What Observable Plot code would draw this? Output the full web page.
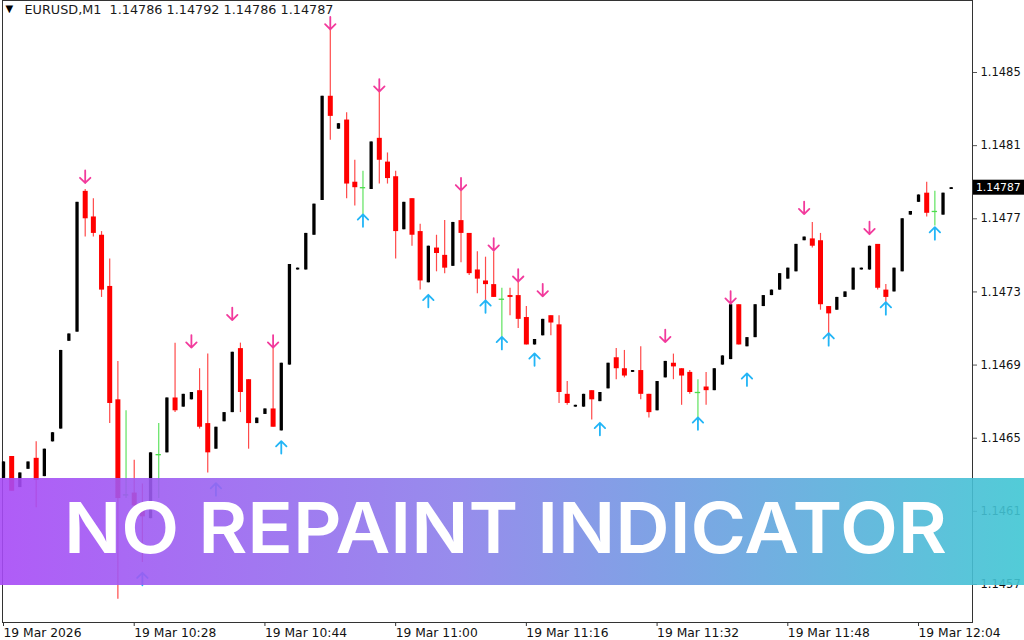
<!DOCTYPE html>
<html><head><meta charset="utf-8">
<script src="https://cdn.jsdelivr.net/npm/d3@7"></script>
<script src="https://cdn.jsdelivr.net/npm/@observablehq/plot@0.6"></script>
<style>
html,body{margin:0;padding:0;overflow:hidden;background:#fff;width:1024px;height:640px}
#chart svg{display:block;overflow:hidden}
</style>
</head><body><div id="chart"></div>
<script>
// ---- data (EURUSD M1, 19 Mar, 10:12 .. 12:08) ----
const open = [1.14628,1.14640,1.14623,1.14633,1.14639,1.14629,1.14648,1.14655,1.14703,1.14708,
1.14785,1.14771,1.14761,1.14733,1.14671,1.14619,1.14620,1.14614,1.14606,1.14641,
1.14642,1.14672,1.14667,1.14671,1.14676,1.14658,1.14644,1.14659,1.14664,1.14699,
1.14682,1.14658,1.14663,1.14666,1.14654,1.14690,1.14742,1.14742,1.14761,1.14780,
1.14837,1.14819,1.14824,1.14790,1.14787,1.14786,1.14814,1.14801,1.14793,1.14764,
1.14781,1.14763,1.14735,1.14754,1.14750,1.14744,1.14769,1.14762,1.14742,1.14736,
1.14734,1.14726,1.14728,1.14728,1.14716,1.14701,1.14706,1.14717,1.14712,1.14674,
1.14667,1.14667,1.14676,1.14670,1.14677,1.14694,1.14688,1.14686,1.14687,1.14674,
1.14665,1.14683,1.14691,1.14688,1.14686,1.14675,1.14678,1.14676,1.14690,1.14693,
1.14723,1.14700,1.14705,1.14722,1.14728,1.14731,1.14737,1.14741,1.14758,1.14759,
1.14758,1.14722,1.14720,1.14727,1.14731,1.14742,1.14742,1.14756,1.14731,1.14730,
1.14741,1.14772,1.14779,1.14784,1.14774,1.14772,1.14786];
const high = [1.14637,1.14640,1.14631,1.14637,1.14648,1.14644,1.14653,1.14698,1.14707,1.14779,
1.14786,1.14781,1.14763,1.14748,1.14692,1.14665,1.14638,1.14625,1.14642,1.14658,
1.14672,1.14702,1.14674,1.14675,1.14688,1.14696,1.14656,1.14664,1.14697,1.14702,
1.14682,1.14661,1.14666,1.14699,1.14691,1.14745,1.14743,1.14762,1.14778,1.14837,
1.14874,1.14822,1.14828,1.14802,1.14796,1.14812,1.14841,1.14806,1.14796,1.14779,
1.14781,1.14767,1.14755,1.14761,1.14769,1.14768,1.14785,1.14762,1.14752,1.14749,
1.14752,1.14732,1.14732,1.14736,1.14722,1.14704,1.14715,1.14717,1.14717,1.14681,
1.14668,1.14674,1.14676,1.14675,1.14691,1.14699,1.14698,1.14687,1.14700,1.14674,
1.14681,1.14692,1.14696,1.14688,1.14687,1.14682,1.14686,1.14688,1.14695,1.14723,
1.14723,1.14705,1.14723,1.14728,1.14731,1.14740,1.14743,1.14756,1.14760,1.14768,
1.14762,1.14722,1.14727,1.14730,1.14743,1.14743,1.14755,1.14756,1.14734,1.14743,
1.14770,1.14774,1.14783,1.14790,1.14785,1.14784,1.14787];
const low = [1.14628,1.14621,1.14623,1.14633,1.14612,1.14629,1.14648,1.14655,1.14703,1.14708,
1.14760,1.14760,1.14727,1.14658,1.14562,1.14617,1.14603,1.14582,1.14606,1.14617,
1.14642,1.14664,1.14667,1.14671,1.14655,1.14631,1.14644,1.14659,1.14664,1.14664,
1.14644,1.14658,1.14663,1.14656,1.14654,1.14690,1.14742,1.14742,1.14761,1.14780,
1.14813,1.14819,1.14781,1.14777,1.14772,1.14786,1.14789,1.14789,1.14748,1.14764,
1.14755,1.14731,1.14735,1.14741,1.14740,1.14744,1.14746,1.14739,1.14729,1.14725,
1.14727,1.14704,1.14717,1.14710,1.14701,1.14701,1.14706,1.14706,1.14669,1.14668,
1.14667,1.14667,1.14660,1.14670,1.14677,1.14682,1.14683,1.14686,1.14671,1.14661,
1.14665,1.14683,1.14682,1.14668,1.14674,1.14659,1.14668,1.14676,1.14690,1.14693,
1.14701,1.14700,1.14705,1.14722,1.14728,1.14731,1.14737,1.14741,1.14758,1.14754,
1.14720,1.14704,1.14720,1.14727,1.14731,1.14742,1.14742,1.14731,1.14724,1.14730,
1.14741,1.14772,1.14779,1.14771,1.14766,1.14772,1.14786];
const close = [1.14637,1.14621,1.14631,1.14637,1.14627,1.14644,1.14653,1.14698,1.14707,1.14779,
1.14770,1.14762,1.14731,1.14669,1.14617,1.14619,1.14613,1.14607,1.14642,1.14641,
1.14672,1.14665,1.14674,1.14675,1.14656,1.14642,1.14656,1.14664,1.14697,1.14675,
1.14658,1.14661,1.14666,1.14656,1.14691,1.14745,1.14743,1.14762,1.14778,1.14837,
1.14826,1.14822,1.14789,1.14787,1.14787,1.14812,1.14802,1.14792,1.14763,1.14779,
1.14761,1.14736,1.14755,1.14751,1.14743,1.14768,1.14762,1.14740,1.14737,1.14734,
1.14727,1.14726,1.14727,1.14715,1.14701,1.14704,1.14715,1.14713,1.14675,1.14669,
1.14668,1.14674,1.14671,1.14675,1.14691,1.14688,1.14684,1.14687,1.14674,1.14664,
1.14681,1.14692,1.14689,1.14684,1.14675,1.14675,1.14676,1.14688,1.14695,1.14723,
1.14701,1.14705,1.14723,1.14728,1.14731,1.14740,1.14743,1.14756,1.14760,1.14755,
1.14723,1.14718,1.14727,1.14730,1.14743,1.14743,1.14755,1.14732,1.14727,1.14743,
1.14770,1.14774,1.14783,1.14773,1.14774,1.14784,1.14787];

// indicator arrows (bar index, price of arrow centre)
const sellBars   = [10,23,28,33,40,46,56,60,63,66,81,89,98,106];
const sellPrices = [1.14793,1.14703,1.14718,1.14703,1.14877,1.14843,1.14789,1.14756,1.14739,1.14731,1.14706,1.14727,1.14776,1.14765];
const buyBars    = [17,26,34,44,52,59,61,65,73,85,91,101,108,114];
const buyPrices  = [1.14573,1.14622,1.14645,1.14769,1.14725,1.14722,1.14702,1.14693,1.14655,1.14658,1.14682,1.14704,1.14721,1.14762];

// axis ticks
const xTickBars   = [0,16,32,48,64,80,96,112];
const xTickLabels = ["19 Mar 2026","19 Mar 10:28","19 Mar 10:44","19 Mar 11:00","19 Mar 11:16","19 Mar 11:32","19 Mar 11:48","19 Mar 12:04"];
const yTicks      = [1.1457,1.1461,1.1465,1.1469,1.1473,1.1477,1.1481,1.1485];

const symbolLabel = "EURUSD,M1";
const quote = [1.14786,1.14792,1.14786,1.14787];
const bannerText = "NO REPAINT INDICATOR";

// ---- build tables ----
const bars = open.map((o, i) => ({
  i, open: o, high: high[i], low: low[i], close: close[i],
  kind: close[i] > o ? "bull" : close[i] < o ? "bear" : "doji"
}));
const bulls = bars.filter(d => d.kind === "bull");
const bears = bars.filter(d => d.kind === "bear");
const dojis = bars.filter(d => d.kind === "doji");
const sells = sellBars.map((b, k) => ({i: b, price: sellPrices[k]}));
const buys  = buyBars.map((b, k) => ({i: b, price: buyPrices[k]}));
const headerText = symbolLabel + "  " + quote.map(q => q.toFixed(5)).join(" ");

const chart = Plot.plot({
  width: 1024,
  height: 640,
  marginLeft: 2,
  marginRight: 52,
  marginTop: 0,
  marginBottom: 18,
  style: {fontFamily: "DejaVu Sans", background: "#fff", color: "#000"},
  x: {type: "linear", domain: [0, bars.length - 1], range: [3, 950.7], axis: null},
  y: {type: "linear", domain: [1.1457, 1.1485], range: [584, 72], axis: null},
  marks: [
    Plot.frame({stroke: "#333"}),
    Plot.axisY(yTicks, {anchor: "right", label: null, tickSize: 4, tickPadding: 4,
      tickFormat: d => d.toFixed(4), fontSize: 11.5, fill: "#111", stroke: "#555"}),
    Plot.axisX(xTickBars, {anchor: "bottom", label: null, tickSize: 4, tickPadding: 2,
      tickFormat: d => xTickLabels[xTickBars.indexOf(d)], textAnchor: "start",
      fontSize: 12.3, fill: "#111", stroke: "#333"}),
    // wicks
    Plot.ruleX(bears, {x: "i", y1: "low", y2: "high", stroke: "#ff4a4a", strokeWidth: 1.2}),
    Plot.ruleX(bulls, {x: "i", y1: "low", y2: "high", stroke: "#000", strokeWidth: 1}),
    Plot.ruleX(dojis, {x: "i", y1: "low", y2: "high", stroke: "#5fe35f", strokeWidth: 1.2}),
    // bodies
    Plot.ruleX(bears, {x: "i", y1: "open", y2: "close", stroke: "#ff0000", strokeWidth: 5}),
    Plot.ruleX(bulls, {x: "i", y1: "open", y2: "close", stroke: "#000", strokeWidth: 3.3}),
    Plot.ruleY(dojis, {y: "close", x1: d => d.i - 0.33, x2: d => d.i + 0.33, stroke: "#4cdc4c", strokeWidth: 1.3}),
    // indicator arrows
    Plot.vector(sells, {x: "i", y: "price", rotate: 180, length: 12.5, r: 7.3, anchor: "middle",
      stroke: "#f23a9c", strokeWidth: 1.8}),
    Plot.vector(buys, {x: "i", y: "price", rotate: 0, length: 12.5, r: 7.3, anchor: "middle",
      stroke: "#22b5f6", strokeWidth: 1.8}),
    // header
    Plot.text([headerText], {frameAnchor: "top-left", text: d => d, dx: 22, dy: 4,
      lineAnchor: "top", textAnchor: "start", fontSize: 12.8, fill: "#1a1a1a"}),
    Plot.text(["\u25BC"], {frameAnchor: "top-left", text: d => d, dx: 3, dy: 4,
      lineAnchor: "top", textAnchor: "start", fontSize: 10, fill: "#000"})
  ]
});

document.getElementById("chart").appendChild(chart);

// current price label on the right axis
const svg = d3.select(chart);
const yScale = chart.scale("y");
const lastClose = close[close.length - 1];
const yy = yScale.apply(lastClose);
const lbl = svg.append("g");
lbl.append("rect").attr("x", 973).attr("y", yy - 7.5).attr("width", 60).attr("height", 15).attr("fill", "#000");
lbl.append("text").attr("x", 976).attr("y", yy).attr("dy", "0.35em")
  .attr("text-anchor", "start")
  .attr("fill", "#fff").attr("font-size", 10.8).attr("font-family", "DejaVu Sans")
  .text(lastClose.toFixed(5));

// promotional banner overlay
const defs = svg.append("defs");
const grad = defs.append("linearGradient").attr("id", "bannerGrad").attr("x1", "0%").attr("x2", "100%");
grad.append("stop").attr("offset", "0%").attr("stop-color", "#a74af6");
grad.append("stop").attr("offset", "45%").attr("stop-color", "#8b80ea");
grad.append("stop").attr("offset", "100%").attr("stop-color", "#3fc6d3");
svg.append("rect").attr("x", 0).attr("y", 478).attr("width", 1024).attr("height", 107)
  .attr("fill", "url(#bannerGrad)").attr("opacity", 0.9);
svg.append("text").attr("x", 64).attr("y", 553)
  .attr("text-anchor", "start")
  .attr("font-family", "Inter, Lato, sans-serif").attr("font-weight", 600)
  .attr("font-size", 70).attr("fill", "#fff")
  .attr("textLength", 883).attr("lengthAdjust", "spacingAndGlyphs")
  .text(bannerText);
</script>
</body></html>
